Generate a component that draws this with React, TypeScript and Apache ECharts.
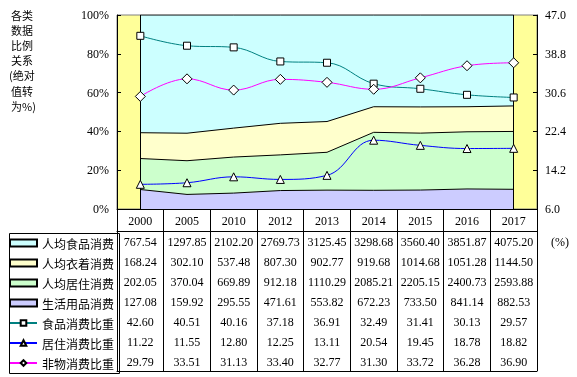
import React, { useEffect, useRef } from "react";
import * as echarts from "echarts";

const years = ["2000", "2005", "2010", "2012", "2013", "2014", "2015", "2016", "2017"];
const food = [767.54, 1297.85, 2102.2, 2769.73, 3125.45, 3298.68, 3560.4, 3851.87, 4075.2];
const clothing = [168.24, 302.1, 537.48, 807.3, 902.77, 919.68, 1014.68, 1051.28, 1144.5];
const housing = [202.05, 370.04, 669.89, 912.18, 1110.29, 2085.21, 2205.15, 2400.73, 2593.88];
const goods = [127.08, 159.92, 295.55, 471.61, 553.82, 672.23, 733.5, 841.14, 882.53];
const foodRatio = [42.6, 40.51, 40.16, 37.18, 36.91, 32.49, 31.41, 30.13, 29.57];
const housingRatio = [11.22, 11.55, 12.8, 12.25, 13.11, 20.54, 19.45, 18.78, 18.82];
const nonMaterialRatio = [29.79, 33.51, 31.13, 33.4, 32.77, 31.3, 33.72, 36.28, 36.9];
const rightTicks = [6.0, 14.2, 22.4, 30.6, 38.8, 47.0];
const titleLines = ["各类", "数据", "比例", "关系", "(绝对", "值转", "为%)"];

const names = ["人均食品消费", "人均衣着消费", "人均居住消费", "生活用品消费", "食品消费比重", "居住消费比重", "非物消费比重"];
const tableRows = [food, clothing, housing, goods, foodRatio, housingRatio, nonMaterialRatio];

const SERIF = "'Liberation Serif', 'Times New Roman', serif";
const CJK = "'Noto Sans CJK SC', sans-serif";

export default function App() {
  const ref = useRef<HTMLDivElement>(null);
  useEffect(() => {
    if (!ref.current) return;
    const chart = echarts.init(ref.current, undefined, { renderer: "svg" });
    const totals = years.map((_, i) => food[i] + clothing[i] + housing[i] + goods[i]);
    const share = (arr: number[]) => arr.map((v, i) => (v / totals[i]) * 100);

    const areaDefs = [
      { name: names[3], data: goods, fill: "#CCCCFF" },
      { name: names[2], data: housing, fill: "#CCFFCC" },
      { name: names[1], data: clothing, fill: "#FFFFCC" },
      { name: names[0], data: food, fill: "#CCFFFF" },
    ];
    const areaSeries = areaDefs.map((d, idx) => ({
      name: d.name,
      type: "line",
      stack: "share",
      xAxisIndex: 0,
      yAxisIndex: 0,
      data: share(d.data),
      symbol: "none",
      showSymbol: false,
      lineStyle: { color: "#000", width: 1 },
      areaStyle: { color: d.fill, opacity: 1 },
      itemStyle: { color: d.fill, borderColor: "#000", borderWidth: 1 },
      z: 2,
      silent: true,
      markLine:
        idx === 3
          ? {
              symbol: "none",
              silent: true,
              label: { show: false },
              lineStyle: { color: "#000", type: "solid", width: 1 },
              data: [{ xAxis: years[0] }, { xAxis: years[years.length - 1] }],
            }
          : undefined,
    }));

    const lineDefs = [
      { name: names[4], data: foodRatio, color: "#008080", symbol: "rect", size: 7 },
      { name: names[5], data: housingRatio, color: "#0000FF", symbol: "triangle", size: 8 },
      { name: names[6], data: nonMaterialRatio, color: "#FF00FF", symbol: "diamond", size: 10 },
    ];
    const lineSeries = lineDefs.map((d) => ({
      name: d.name,
      type: "line",
      xAxisIndex: 0,
      yAxisIndex: 1,
      data: d.data,
      smooth: 0.4,
      symbol: d.symbol,
      symbolSize: d.size,
      showSymbol: true,
      lineStyle: { color: d.color, width: 1 },
      itemStyle: { color: "#FFFFFF", borderColor: "#000", borderWidth: 1 },
      z: 5,
      silent: true,
    }));

    const rowAxes = tableRows.map((arr, k) => ({
      type: "category",
      data: years,
      position: "bottom",
      offset: 22 + 20 * k,
      boundaryGap: true,
      axisLine: { show: k === 0, lineStyle: { color: "#000", width: 1 } },
      axisTick: { show: true, inside: false, length: 20, interval: 0, lineStyle: { color: "#000" } },
      axisLabel: {
        interval: 0,
        margin: 5,
        fontFamily: SERIF,
        fontSize: 12,
        color: "#000",
        formatter: (_v: string, i: number) => arr[i].toFixed(2),
      },
      splitLine: { show: false },
    }));

    const titleGraphics = titleLines.map((t, i) => ({
      type: "text",
      left: t.startsWith("(") ? 9 : 11,
      top: 9 + i * 15.2,
      style: { text: t, fontFamily: CJK, fontSize: 11, fill: "#000" },
    }));

    chart.setOption({
      animation: false,
      legend: {
        orient: "vertical",
        left: 9,
        top: 236,
        padding: 0,
        itemGap: 6,
        itemWidth: 27,
        itemHeight: 7,
        selectedMode: false,
        textStyle: { fontFamily: CJK, fontSize: 12, color: "#000", lineHeight: 14 },
        data: [
          { name: names[0], icon: "rect" },
          { name: names[1], icon: "rect" },
          { name: names[2], icon: "rect" },
          { name: names[3], icon: "rect" },
          { name: names[4] },
          { name: names[5] },
          { name: names[6] },
        ],
      },
      grid: {
        left: 117,
        right: 40,
        top: 15,
        bottom: 168,
        show: true,
        backgroundColor: "#FFFF99",
        borderColor: "#808080",
        borderWidth: 1,
        containLabel: false,
        outerBoundsMode: "none",
      },
      xAxis: [
        {
          type: "category",
          data: years,
          position: "bottom",
          boundaryGap: true,
          axisLine: { show: true, lineStyle: { color: "#000", width: 1 } },
          axisTick: { show: true, inside: false, length: 22, interval: 0, lineStyle: { color: "#000" } },
          axisLabel: { interval: 0, margin: 6, fontFamily: SERIF, fontSize: 12, color: "#000" },
          splitLine: { show: false },
        },
        ...rowAxes,
        {
          type: "category",
          data: years,
          position: "bottom",
          offset: 162,
          boundaryGap: true,
          axisLine: { show: true, lineStyle: { color: "#000", width: 1 } },
          axisTick: { show: false },
          axisLabel: { show: false },
          splitLine: { show: false },
        },
      ],
      yAxis: [
        {
          type: "value",
          position: "left",
          min: 0,
          max: 100,
          interval: 20,
          axisLine: { show: true, lineStyle: { color: "#000" } },
          axisTick: { show: true, inside: true, length: 4, lineStyle: { color: "#000" } },
          axisLabel: { formatter: "{value}%", fontFamily: SERIF, fontSize: 12, color: "#000", margin: 8 },
          splitLine: { show: false },
        },
        {
          type: "value",
          position: "right",
          min: 6,
          max: 47,
          axisLine: { show: true, lineStyle: { color: "#000" } },
          axisTick: { show: true, inside: true, length: 4, customValues: rightTicks, lineStyle: { color: "#000" } },
          axisLabel: {
            customValues: rightTicks,
            formatter: (v: number) => v.toFixed(1),
            fontFamily: SERIF,
            fontSize: 12,
            color: "#000",
            margin: 8,
          },
          splitLine: { show: false },
        },
      ],
      graphic: [
        ...titleGraphics,
        {
          type: "rect",
          left: 7,
          top: 231,
          shape: { x: 0, y: 0, width: 110, height: 140 },
          style: { fill: "none", stroke: "#000", lineWidth: 1 },
        },
        {
          type: "text",
          left: 551,
          top: 236,
          style: { text: "(%)", fontFamily: SERIF, fontSize: 12, fill: "#000" },
        },
      ],
      series: [...areaSeries, ...lineSeries],
    });
    return () => chart.dispose();
  }, []);
  return <div ref={ref} style={{ position: "fixed", left: 0, top: 0, width: 577, height: 377 }} />;
}
